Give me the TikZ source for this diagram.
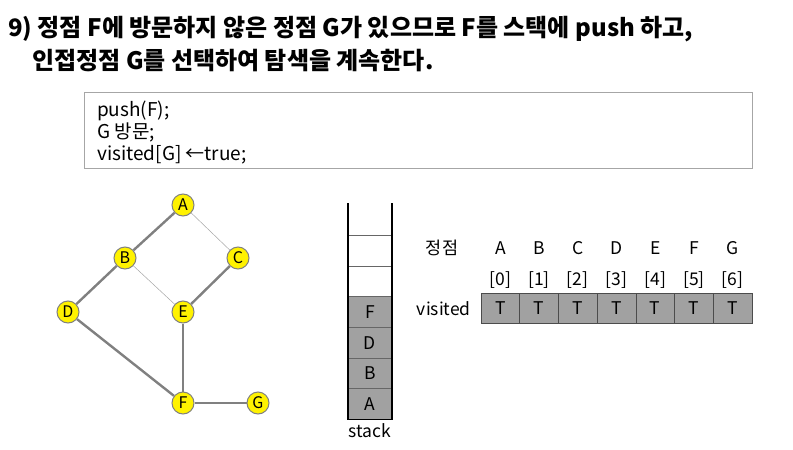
\documentclass[tikz,border=0pt]{standalone}
\usepackage{fontspec}
\setmainfont{Noto Sans CJK KR}
\begin{document}
\begin{tikzpicture}[x=1pt,y=-1pt,
  vtx/.style={circle,draw=gray,line width=1pt,fill=yellow,minimum size=22pt,inner sep=0pt,font=\fontsize{16}{16}\selectfont},
  thick edge/.style={draw=gray,line width=2.4pt},
  thin edge/.style={draw=gray!70,line width=0.5pt},
  cell/.style={draw=black!70,line width=0.6pt,fill=black!37,minimum width=38.7pt,minimum height=30pt,inner sep=0pt,font=\fontsize{17.5}{17.5}\selectfont},
  stk/.style={draw=black!60,line width=0.6pt,fill=black!37,minimum width=44pt,minimum height=30.5pt,inner sep=0pt,font=\fontsize{17.5}{17.5}\selectfont},
  lbl/.style={inner sep=0pt,font=\fontsize{17.5}{17.5}\selectfont},
  codetxt/.style={anchor=base west,inner sep=0pt,font=\fontsize{19}{19}\selectfont},
  titletxt/.style={anchor=base west,inner sep=0pt,font=\fontsize{24}{24}\selectfont\bfseries}]
\useasboundingbox (0,0) rectangle (793,450);
% title
\node[titletxt] (t1) at (8,36) {9) 정점 F에 방문하지 않은 정점 G가 있으므로 F를 스택에 push 하고,};
\node[titletxt] (t2) at (32,69) {인접정점 G를 선택하여 탐색을 계속한다.};
% code box
\node[draw=gray!70,line width=0.8pt,minimum width=668pt,minimum height=76pt,inner sep=0pt] (box) at (418,130) {};
\node[codetxt] (c1) at (97,116) {push(F);};
\node[codetxt] (c2) at (97,138) {G 방문;};
\node[codetxt] (c3) at (97,160) {visited[G] ←true;};
% graph
\node[vtx] (A) at (183,205) {A};
\node[vtx] (B) at (125,258) {B};
\node[vtx] (C) at (238,258) {C};
\node[vtx] (D) at (68,312) {D};
\node[vtx] (E) at (183,312) {E};
\node[vtx] (F) at (183,403) {F};
\node[vtx] (G) at (258,403) {G};
\draw[thick edge] (A) -- (B);
\draw[thin edge] (A) -- (C);
\draw[thick edge] (B) -- (D);
\draw[thin edge] (B) -- (E);
\draw[thick edge] (C) -- (E);
\draw[thick edge] (D) -- (F);
\draw[thick edge] (E) -- (F);
\draw[thick edge] (F) -- (G);
% stack
\node[stk] (s1) at (370,404) {A};
\node[stk] (s2) at (370,373.5) {B};
\node[stk] (s3) at (370,343) {D};
\node[stk] (s4) at (370,312) {F};
\draw[black!60,line width=0.6pt] (348,266) -- (392,266);
\draw[black!60,line width=0.6pt] (348,235) -- (392,235);
\coordinate (stl) at (348,203);
\coordinate (str) at (392,203);
\coordinate (sbl) at (348,419.5);
\coordinate (sbr) at (392,419.5);
\draw[black,line width=1.6pt] (stl) -- (sbl) -- (sbr) -- (str);
\node[lbl,anchor=north] (stack) at (370,423) {stack};
% table
\node[lbl] (h0) at (442,248) {정점};
\node[lbl,anchor=east] (vis) at (471,309) {visited};
\foreach \l/\i [count=\k from 0] in {A/0,B/1,C/2,D/3,E/4,F/5,G/6}{
  \node[lbl] (h\l) at ({500.35+38.7*\k},248) {\l};
  \node[lbl] (i\l) at ({500.35+38.7*\k},280) {[\i]};
  \node[cell] (v\l) at ({500.35+38.7*\k},308) {T};
}
\end{tikzpicture}
\end{document}
